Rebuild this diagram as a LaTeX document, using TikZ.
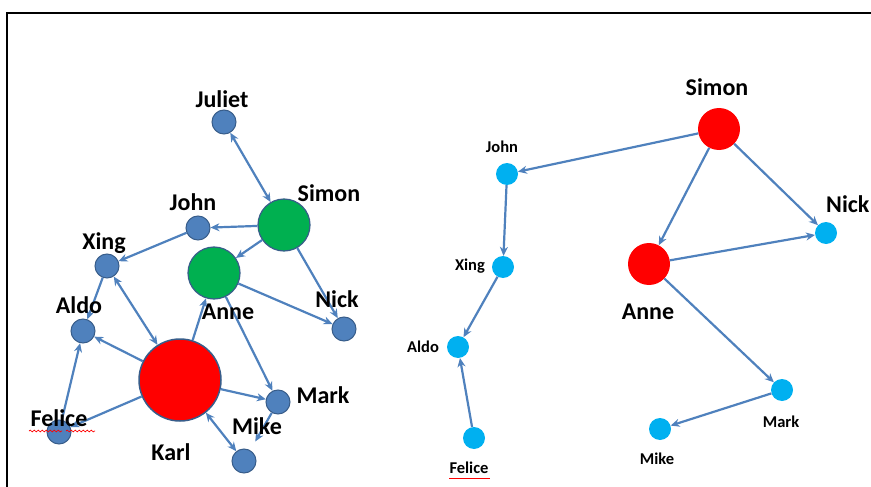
\documentclass[tikz,border=0pt]{standalone}
\usepackage{fontspec}
\setmainfont{Carlito}
\usetikzlibrary{arrows.meta,decorations.pathmorphing}
\definecolor{edgeblue}{HTML}{4F81BD}
\definecolor{steel}{HTML}{4F81BD}
\definecolor{steeldark}{HTML}{385D8A}
\definecolor{gnfill}{HTML}{00B050}
\definecolor{rdfill}{HTML}{FF0000}
\definecolor{skyfill}{HTML}{00B0F0}
\tikzset{
  lnode/.style={circle, fill=steel, draw=steeldark, line width=1pt, minimum size=24pt, inner sep=0pt},
  gnode/.style={circle, fill=gnfill, draw=steeldark, line width=1.2pt, minimum size=52pt, inner sep=0pt},
  knode/.style={circle, fill=rdfill, draw=steeldark, line width=1.5pt, minimum size=82pt, inner sep=0pt},
  rnode/.style={circle, fill=skyfill, minimum size=22pt, inner sep=0pt},
  rred/.style={circle, fill=rdfill, minimum size=42pt, inner sep=0pt},
  biglbl/.style={font=\bfseries\fontsize{24}{24}\selectfont, inner sep=0pt},
  smalllbl/.style={font=\bfseries\fontsize{16.5}{16.5}\selectfont, inner sep=0pt},
  edge/.style={draw=edgeblue, line width=2.2pt, -{Stealth[length=9pt,width=8pt]}},
  biedge/.style={draw=edgeblue, line width=2.2pt, {Stealth[length=9pt,width=8pt]}-{Stealth[length=9pt,width=8pt]}},
  spell/.style={draw=red, line width=0.7pt, decorate, decoration={snake, amplitude=0.9pt, segment length=4pt}}
}
\begin{document}
\begin{tikzpicture}[x=1pt,y=-1pt]
\useasboundingbox (0,0) rectangle (871,487);
% frame
\draw[line width=1.6pt] (880,13) -| (7,495);

% ---------- left graph ----------
\node[lnode] (juliet) at (224,122) {};
\node[gnode] (simon) at (284,225) {};
\node[lnode] (john) at (198,228) {};
\node[lnode] (xing) at (107,266) {};
\node[gnode] (anne) at (214,273) {};
\node[lnode] (nick) at (344,329) {};
\node[lnode] (aldo) at (83,331) {};
\node[knode] (karl) at (180,380) {};
\node[lnode] (mark) at (278,402) {};
\node[lnode] (mike) at (244,461) {};
\node[lnode] (felice) at (59,432) {};

\draw[biedge] (juliet) -- (simon);
\draw[edge] (simon) -- (john);
\draw[edge] (john) -- (xing);
\draw[edge] (simon) -- (anne);
\draw[edge] (simon) -- (nick);
\draw[edge] (anne) -- (nick);
\draw[edge] (anne) -- (mark);
\draw[biedge] (xing) -- (karl);
\draw[edge] (xing) -- (aldo);
\draw[edge] (karl) -- (anne);
\draw[edge] (karl) -- (aldo);
\draw[edge] (karl) -- (felice);
\draw[edge] (felice) -- (aldo);
\draw[edge] (karl) -- (mark);
\draw[biedge] (karl) -- (mike);
\draw[edge, shorten >=10pt] (mark) -- (mike);

\node[biglbl] (ljuliet) at (222,99) {Juliet};
\node[biglbl] (lsimon) at (329,193) {Simon};
\node[biglbl] (ljohn) at (193,202) {John};
\node[biglbl] (lxing) at (104,243) {Xing};
\node[biglbl] (lanne) at (228,312) {Anne};
\node[biglbl] (lnick) at (337,299) {Nick};
\node[biglbl] (laldo) at (79,305) {Aldo};
\node[biglbl] (lkarl) at (171,452) {Karl};
\node[biglbl] (lmark) at (323,395) {Mark};
\node[biglbl] (lmike) at (257,426) {Mike};
\node[biglbl] (lfelice) at (59,418) {Felice};
\draw[spell] (29,431) -- (62,431);
\draw[spell] (66,431) -- (95,431);

% ---------- right graph ----------
\node[rred] (rsimon) at (719,129) {};
\node[rnode] (rjohn) at (507,174) {};
\node[rnode] (rxing) at (503,267) {};
\node[rnode] (raldo) at (458,347) {};
\node[rnode] (rfelice) at (474,438) {};
\node[rred] (ranne) at (649,264) {};
\node[rnode] (rnick) at (826,233) {};
\node[rnode] (rmark) at (782,390) {};
\node[rnode] (rmike) at (660,429) {};

\draw[edge] (rsimon) -- (rjohn);
\draw[edge] (rsimon) -- (ranne);
\draw[edge] (rsimon) -- (rnick);
\draw[edge] (ranne) -- (rnick);
\draw[edge] (ranne) -- (rmark);
\draw[edge] (rmark) -- (rmike);
\draw[edge] (rjohn) -- (rxing);
\draw[edge] (rxing) -- (raldo);
\draw[edge] (rfelice) -- (raldo);

\node[biglbl] (lrsimon) at (717,87) {Simon};
\node[biglbl] (lranne) at (648,312) {Anne};
\node[biglbl, anchor=west] (lrnick) at (826,204) {Nick};
\node[smalllbl] (lrjohn) at (502,147) {John};
\node[smalllbl] (lrxing) at (470,266) {Xing};
\node[smalllbl] (lraldo) at (423,347) {Aldo};
\node[smalllbl] (lrfelice) at (469,468) {Felice};
\node[smalllbl] (lrmark) at (781,422) {Mark};
\node[smalllbl] (lrmike) at (657,459) {Mike};
\draw[red, line width=0.7pt] (449,478) -- (490,478);
\end{tikzpicture}
\end{document}
